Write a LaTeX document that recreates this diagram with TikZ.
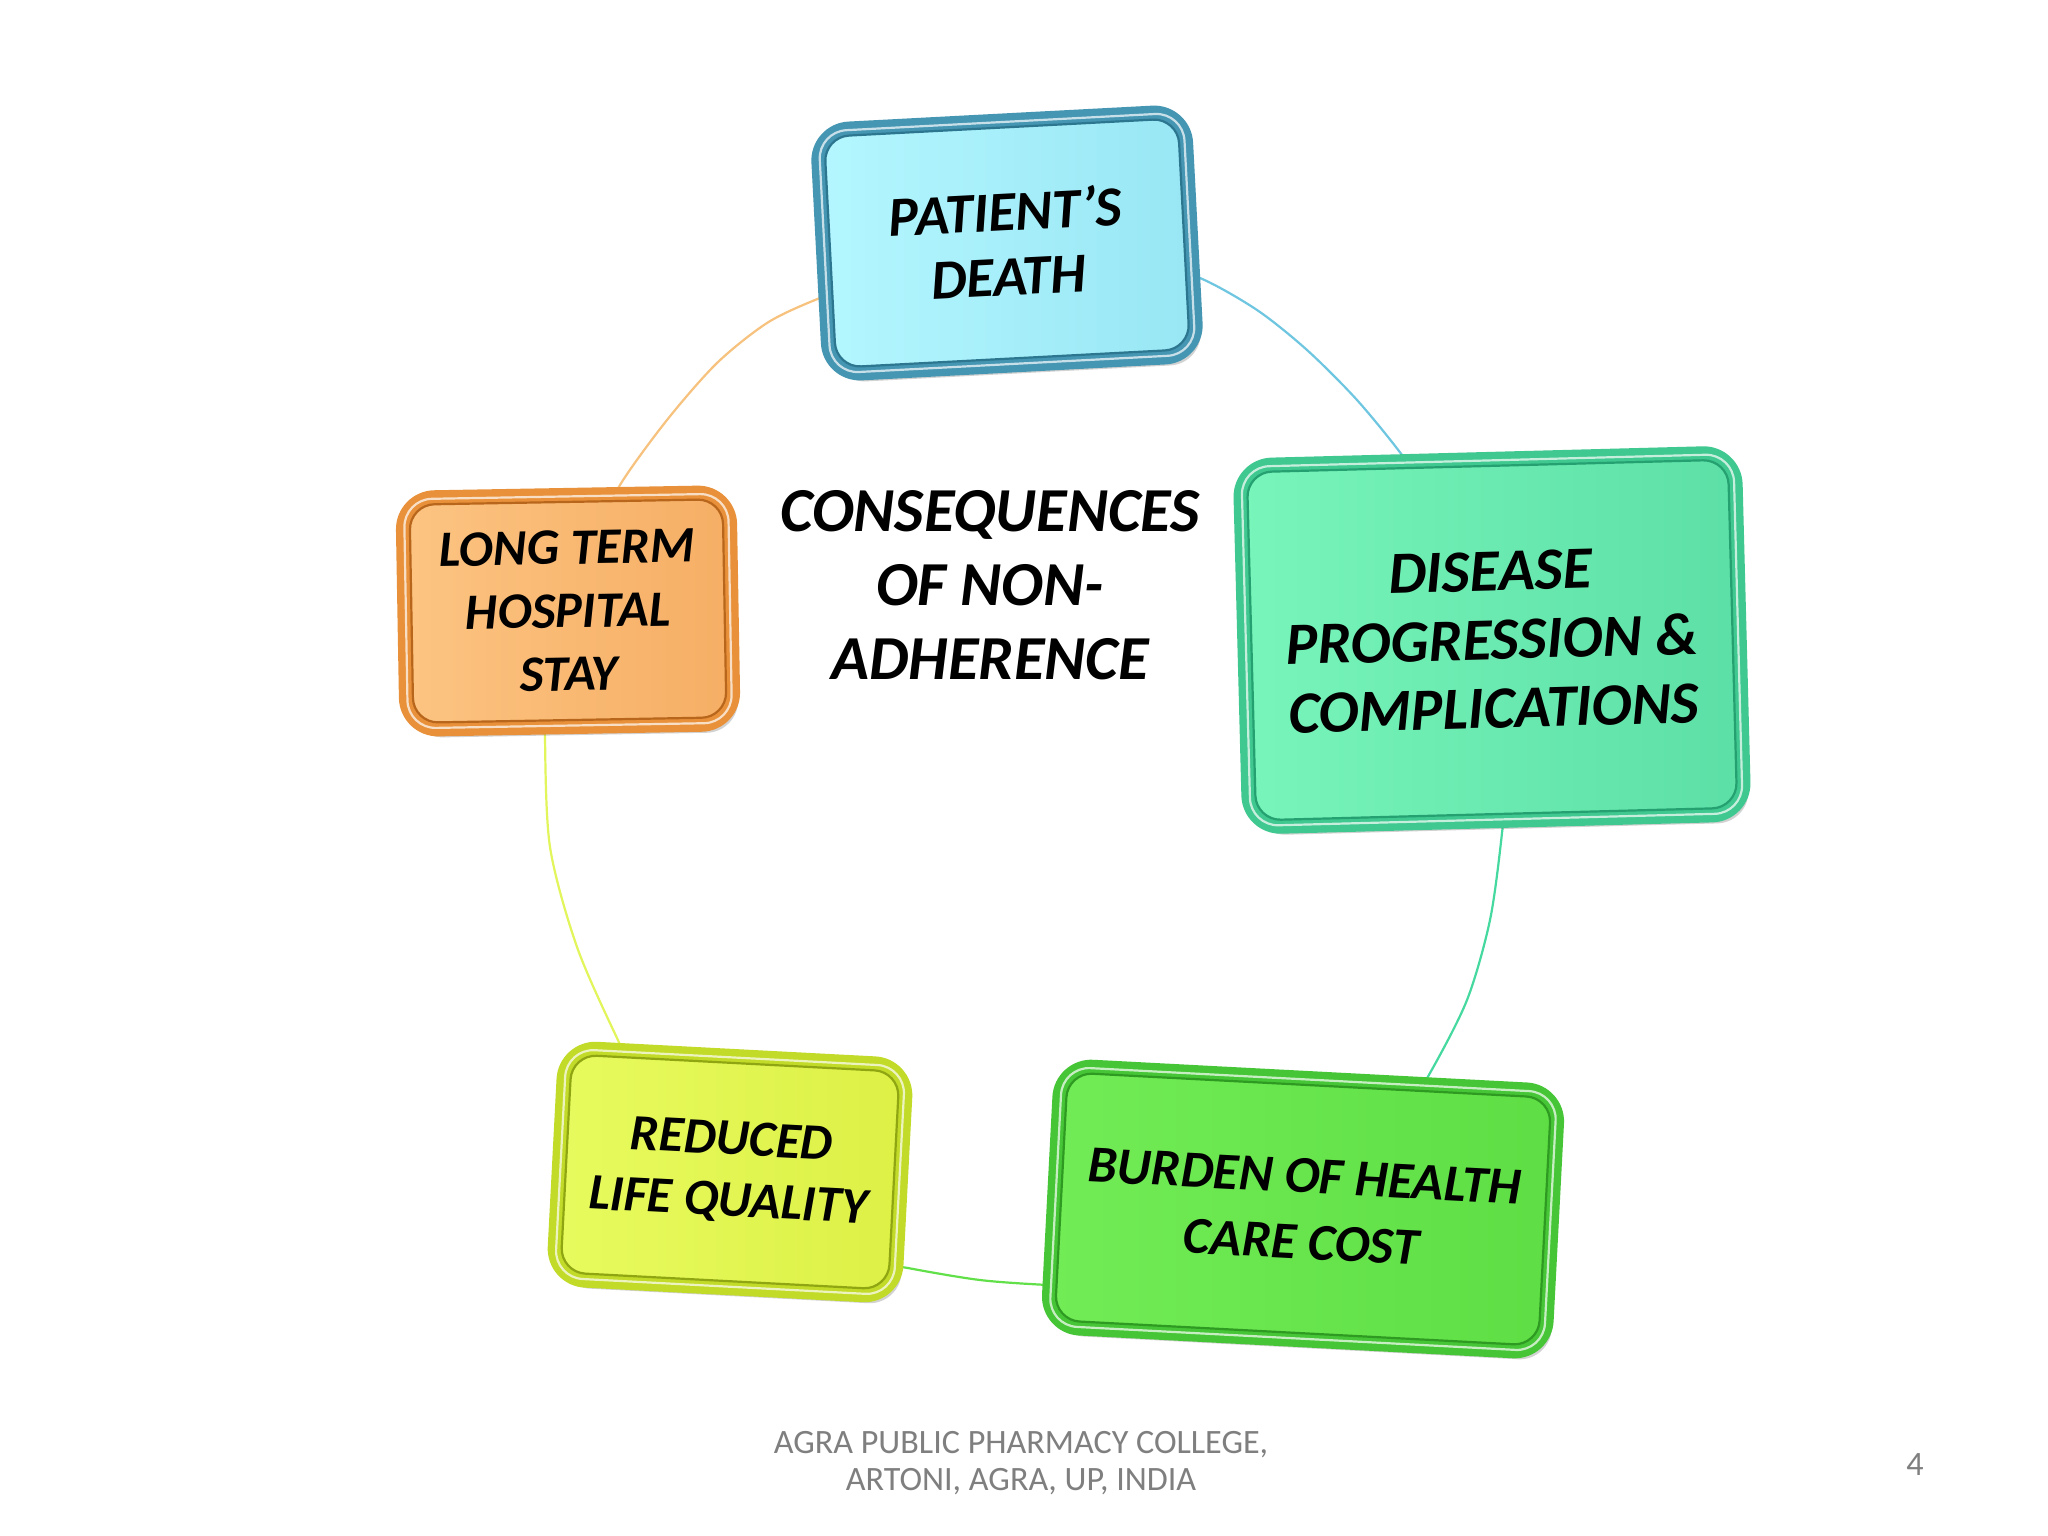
\documentclass[tikz,border=0pt]{standalone}
\usepackage{fontspec}
\setmainfont{Carlito}
\usetikzlibrary{shadows,backgrounds}
\definecolor{rimD}{HTML}{4596B2}\definecolor{rimDd}{HTML}{2C7690}
\definecolor{fillDa}{HTML}{B4F7FF}\definecolor{fillDb}{HTML}{98E6F4}
\definecolor{rimS}{HTML}{E8913A}\definecolor{rimSd}{HTML}{B8661C}
\definecolor{fillSa}{HTML}{FCC482}\definecolor{fillSb}{HTML}{F6AE64}
\definecolor{rimP}{HTML}{3FC88F}\definecolor{rimPd}{HTML}{25A070}
\definecolor{fillPa}{HTML}{78F5BA}\definecolor{fillPb}{HTML}{5CDFA6}
\definecolor{rimR}{HTML}{C2DA28}\definecolor{rimRd}{HTML}{8FA612}
\definecolor{fillRa}{HTML}{E8FB5E}\definecolor{fillRb}{HTML}{DCF046}
\definecolor{rimB}{HTML}{46C636}\definecolor{rimBd}{HTML}{2E9A22}
\definecolor{fillBa}{HTML}{72EC56}\definecolor{fillBb}{HTML}{5EDE44}
\definecolor{arcO}{HTML}{F6C27D}\definecolor{arcBl}{HTML}{6FC6E0}
\definecolor{arcT}{HTML}{45D9A0}\definecolor{arcY}{HTML}{E2F55A}
\definecolor{arcG}{HTML}{62E04A}\definecolor{footgray}{HTML}{7F7F7F}
\tikzset{
  cbox/.style={rounded corners=0.32cm, line width=0.14cm, align=center,
    font=\bfseries\itshape\fontsize{14.5}{18}\selectfont, text=black, inner sep=0pt,
    drop shadow={shadow xshift=0.05cm, shadow yshift=-0.08cm, opacity=0.25, fill=black!70}},
  innerline/.style={line width=0.022cm, rounded corners=0.25cm, inner sep=0pt},
  hilite/.style={draw=white, line width=0.022cm, rounded corners=0.28cm, opacity=0.7, inner sep=0pt},
  arcline/.style={line width=0.022cm},
  deathfont/.style={font=\bfseries\itshape\fontsize{16}{18.5}\selectfont},
  stayfont/.style={font=\bfseries\itshape\fontsize{14.5}{18}\selectfont},
  diseasefont/.style={font=\bfseries\itshape\fontsize{17}{19.5}\selectfont},
  reducedfont/.style={font=\bfseries\itshape\fontsize{14.5}{17.5}\selectfont},
  burdenfont/.style={font=\bfseries\itshape\fontsize{14.8}{18.8}\selectfont},
}
\newcommand{\fancybox}[9]{%
  \node[cbox, #1font, draw=#6, left color=#8, right color=#9, minimum width=#3cm, minimum height=#4cm, rotate=#5] (#1) at #2 {\csname txt#1\endcsname};
  \node[innerline, draw=#7, minimum width=#3cm-0.14cm, minimum height=#4cm-0.14cm, rotate=#5] (#1in) at (#1.center) {};
  \node[hilite, minimum width=#3cm-0.03cm, minimum height=#4cm-0.03cm, rotate=#5] (#1hl) at (#1.center) {};
}
\begin{document}
\begin{tikzpicture}[x=0.01cm,y=-0.01cm]
\useasboundingbox (0,0) rectangle (2048,1536);
\def\txtdeath{PATIENT’S\\DEATH}
\def\txtstay{LONG TERM\\HOSPITAL\\STAY}
\def\txtdisease{DISEASE\\PROGRESSION \&\\COMPLICATIONS}
\def\txtreduced{REDUCED\\LIFE QUALITY}
\def\txtburden{BURDEN OF HEALTH\\CARE COST}

\fancybox{death}{(1007,243)}{3.68}{2.45}{3}{rimD}{rimDd}{fillDa}{fillDb}
\fancybox{stay}{(568,611)}{3.27}{2.32}{1}{rimS}{rimSd}{fillSa}{fillSb}
\fancybox{disease}{(1492,640)}{4.95}{3.62}{1.5}{rimP}{rimPd}{fillPa}{fillPb}
\fancybox{reduced}{(730,1172)}{3.42}{2.32}{-3}{rimR}{rimRd}{fillRa}{fillRb}
\fancybox{burden}{(1303,1209)}{4.98}{2.62}{-3}{rimB}{rimBd}{fillBa}{fillBb}

\node[font=\bfseries\itshape\fontsize{17.8}{21}\selectfont, align=center, inner sep=0pt] (title) at (990,585) {CONSEQUENCES\\OF NON-\\ADHERENCE};

\node[font=\fontsize{9.7}{10.7}\selectfont, text=footgray, align=center, inner sep=0pt] (footer) at (1021,1463) {AGRA PUBLIC PHARMACY COLLEGE,\\ARTONI, AGRA, UP, INDIA};
\node[font=\fontsize{9.7}{10.7}\selectfont, text=footgray, inner sep=0pt] (pagenum) at (1915,1465) {4};

\begin{scope}[on background layer]
\fill[white] (0,0) rectangle (2048,1536);
\draw[arcline, arcO] plot[smooth] coordinates {(stay.center) (598,535) (620,485) (667,420) (717,363) (767,323) (815,300) (862,284) (death.center)};
\draw[arcline, arcBl] plot[smooth] coordinates {(death.center) (1145,263) (1200,278) (1257,310) (1307,350) (1357,400) (1402,455) (1430,498) (disease.center)};
\draw[arcline, arcT] plot[smooth] coordinates {(disease.center) (1505,785) (1502,833) (1490,920) (1467,1000) (1430,1073) (1402,1115) (burden.center)};
\draw[arcline, arcG] plot[smooth] coordinates {(burden.center) (1110,1287) (1048,1285) (980,1280) (908,1268) (860,1257) (reduced.center)};
\draw[arcline, arcY] plot[smooth] coordinates {(reduced.center) (642,1085) (617,1038) (577,947) (550,847) (545,738) (547,695) (stay.center)};
\end{scope}
\end{tikzpicture}
\end{document}
